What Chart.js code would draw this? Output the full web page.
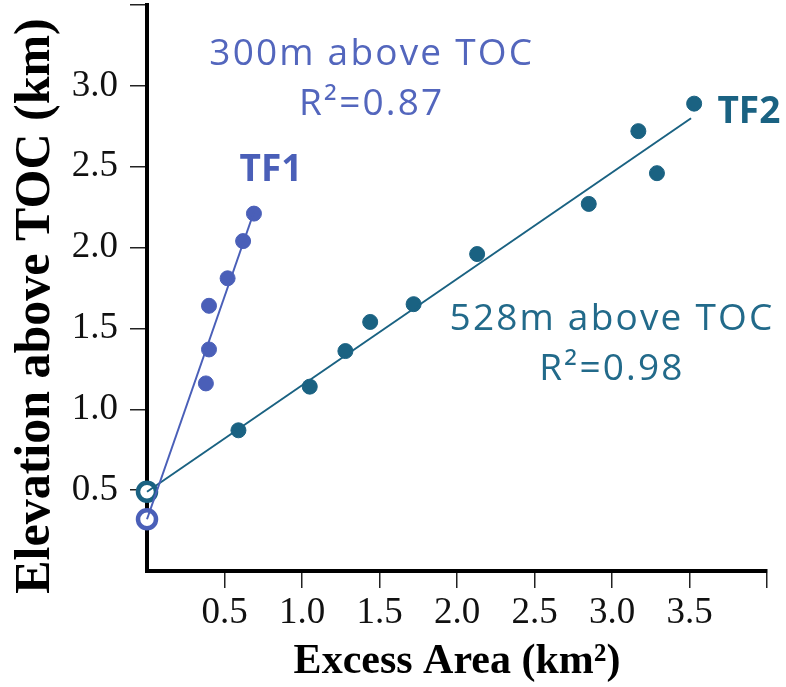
<!DOCTYPE html>
<html>
<head>
<meta charset="utf-8">
<script src="https://cdn.jsdelivr.net/npm/chart.js@4/dist/chart.umd.min.js"></script>
<style>
  html, body { margin: 0; padding: 0; background: #fff; }
  canvas { display: block; }
</style>
</head>
<body>
<canvas id="chart" width="786" height="687"></canvas>
<script>
(function () {
    'use strict';

    // TF1 measurements (excess area km², elevation above TOC km)
    const tf1X = [0.38, 0.40, 0.40, 0.52, 0.62, 0.69];
    const tf1Y = [1.16, 1.37, 1.64, 1.81, 2.04, 2.21];
    // TF2 measurements
    const tf2X = [0.59, 1.05, 1.28, 1.44, 1.72, 2.13, 2.85, 3.17, 3.29, 3.53];
    const tf2Y = [0.87, 1.14, 1.36, 1.54, 1.65, 1.96, 2.27, 2.72, 2.46, 2.89];
    // regression lines (end points) and intercepts
    const tf1FitX = [0, 0.69];
    const tf1FitY = [0.32, 2.22];
    const tf2FitX = [0, 3.51];
    const tf2FitY = [0.49, 2.80];
    const interceptX = [0];
    const tf1InterceptY = [0.32];
    const tf2InterceptY = [0.49];
    // axis ticks
    const xTicks = [0.5, 1.0, 1.5, 2.0, 2.5, 3.0, 3.5];
    const yTicks = [0.5, 1.0, 1.5, 2.0, 2.5, 3.0];

    const BLUE = '#4a5fb8';
    const TEAL = '#1a6282';

    const pts = (xs, ys) => xs.map((x, i) => ({ x: x, y: ys[i] }));

    // annotation labels, placed in data units
    const labels = [
        { text: '300m above TOC', x: 1.45, y: 3.13, color: '#5366bd', bold: false, align: 'center' },
        { text: 'R\u00b2=0.87', x: 1.45, y: 2.82, color: '#5366bd', bold: false, align: 'center' },
        { text: 'TF1', x: 0.80, y: 2.41, color: BLUE, bold: true, align: 'center' },
        { text: 'TF2', x: 3.68, y: 2.77, color: TEAL, bold: true, align: 'left' },
        { text: '528m above TOC', x: 3.0, y: 1.49, color: '#226a8a', bold: false, align: 'center' },
        { text: 'R\u00b2=0.98', x: 3.0, y: 1.18, color: '#226a8a', bold: false, align: 'center' }
    ];

    const annotate = {
        id: 'annotate',
        afterDatasetsDraw(chart) {
            const ctx = chart.ctx;
            const xs = chart.scales.x, ys = chart.scales.y;
            ctx.save();
            labels.forEach(l => {
                ctx.font = (l.bold ? 'bold ' : '') + '37px "Open Sans"';
                ctx.letterSpacing = l.bold ? '0px' : '2.2px';
                ctx.fillStyle = l.color;
                ctx.textAlign = l.align;
                ctx.textBaseline = 'alphabetic';
                ctx.fillText(l.text, xs.getPixelForValue(l.x), ys.getPixelForValue(l.y));
            });
            // y axis title
            const a = chart.chartArea;
            ctx.letterSpacing = '0px';
            ctx.translate(36, (a.top + a.bottom) / 2 + 18);
            ctx.rotate(-Math.PI / 2);
            ctx.font = 'bold 50px "Liberation Serif"';
            ctx.fillStyle = '#000';
            ctx.textAlign = 'center';
            ctx.textBaseline = 'middle';
            ctx.fillText('Elevation above TOC (km)', 0, 0);
            ctx.restore();
        }
    };

    const tickColor = c => (c.tick && c.tick.value === 0) ? 'rgba(0,0,0,0)' : '#222';

    new Chart(document.getElementById('chart'), {
        type: 'scatter',
        data: {
            datasets: [
                { data: pts(tf1FitX, tf1FitY), showLine: true, borderColor: BLUE, borderWidth: 2, pointRadius: 0, clip: false },
                { data: pts(tf2FitX, tf2FitY), showLine: true, borderColor: TEAL, borderWidth: 2, pointRadius: 0, clip: false },
                { data: pts(tf1X, tf1Y), backgroundColor: BLUE, borderColor: BLUE, pointRadius: 7.5, clip: false },
                { data: pts(tf2X, tf2Y), backgroundColor: TEAL, borderColor: TEAL, pointRadius: 7.5, clip: false },
                { data: pts(interceptX, tf1InterceptY), backgroundColor: '#fff', borderColor: BLUE, borderWidth: 4.5, pointRadius: 9, clip: false },
                { data: pts(interceptX, tf2InterceptY), backgroundColor: '#fff', borderColor: TEAL, borderWidth: 4.5, pointRadius: 9, clip: false }
            ]
        },
        options: {
            responsive: false,
            animation: false,
            layout: { autoPadding: false, padding: { top: 5, right: 19, left: 0, bottom: 0 } },
            plugins: { legend: { display: false }, tooltip: { enabled: false } },
            scales: {
                x: {
                    type: 'linear', min: 0, max: 4,
                    afterBuildTicks: s => { s.ticks = [0].concat(xTicks, [4]).map(v => ({ value: v })); },
                    afterFit: s => { s.height = 116; s.paddingLeft = 0; s.paddingRight = 0; },
                    border: { color: '#000', width: 4 },
                    grid: { drawOnChartArea: false, tickLength: 17, lineWidth: 1.5, color: tickColor },
                    ticks: {
                        padding: 3, color: '#111',
                        font: { family: 'Liberation Serif', size: 37 },
                        callback: v => xTicks.includes(v) ? v.toFixed(1) : ''
                    },
                    title: {
                        display: true, text: 'Excess Area (km\u00b2)', color: '#000',
                        font: { family: 'Liberation Serif', size: 42, weight: 'bold' },
                        padding: { top: 0, bottom: 0 }
                    }
                },
                y: {
                    type: 'linear', min: 0, max: 3.5,
                    afterBuildTicks: s => { s.ticks = [0].concat(yTicks, [3.5]).map(v => ({ value: v })); },
                    afterFit: s => { s.width = 147; s.paddingTop = 0; s.paddingBottom = 0; },
                    border: { color: '#000', width: 4 },
                    grid: { drawOnChartArea: false, tickLength: 17, lineWidth: 1.5, color: tickColor },
                    ticks: {
                        padding: 12, color: '#111',
                        font: { family: 'Liberation Serif', size: 37 },
                        callback: v => yTicks.includes(v) ? v.toFixed(1) : ''
                    }
                }
            }
        },
        plugins: [annotate]
    });
})();
</script>
</body>
</html>
